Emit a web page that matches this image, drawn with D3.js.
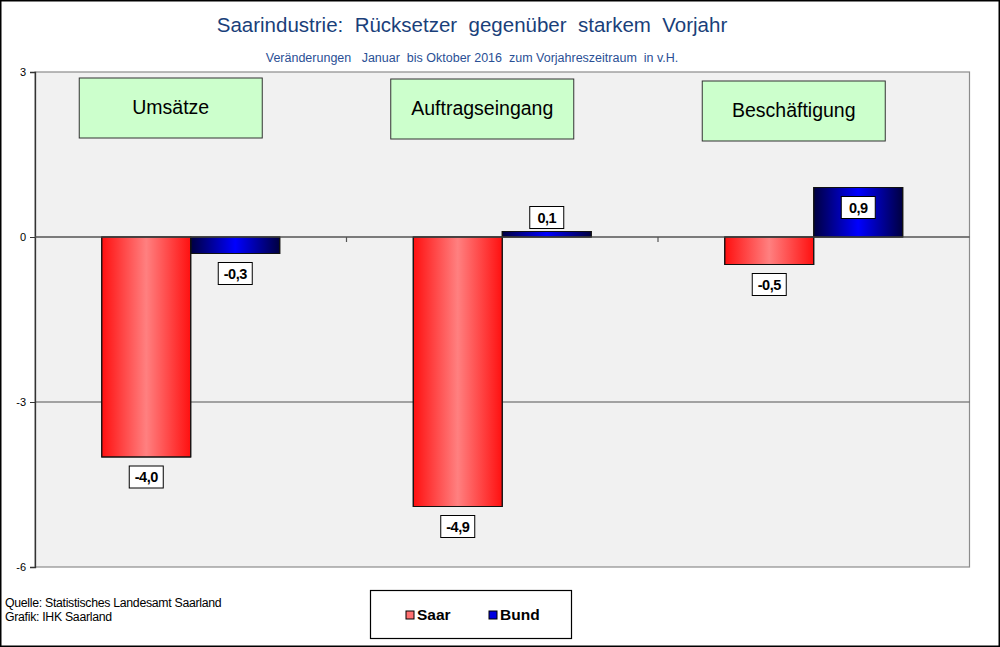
<!DOCTYPE html>
<html><head><meta charset="utf-8">
<script src="https://cdn.jsdelivr.net/npm/d3@7"></script>
<style>body{margin:0;background:#fff}svg{display:block;font-family:Arial,"Liberation Sans",sans-serif}</style>
</head><body>
<svg id="c" width="1000" height="647"></svg>
<script>
const categories = ["Umsätze", "Auftragseingang", "Beschäftigung"];
const seriesNames = ["Saar", "Bund"];
const saarValues = [-4.0, -4.9, -0.5];
const bundValues = [-0.3, 0.1, 0.9];
const yTicks = [3, 0, -3, -6];
const title = "Saarindustrie:  Rücksetzer  gegenüber  starkem  Vorjahr";
const subtitle = "Veränderungen   Januar  bis Oktober 2016  zum Vorjahreszeitraum  in v.H.";
const sourceLines = ["Quelle: Statistisches Landesamt Saarland", "Grafik: IHK Saarland"];

const svg = d3.select("#c");
const L = 35, R = 969.5, T = 72, B = 567;
const fmt = v => d3.format(".1f")(v).replace(".", ",").replace("−", "-");

const defs = svg.append("defs");
function grad(id, edge, mid) {
  const g = defs.append("linearGradient").attr("id", id).attr("x1", "0").attr("x2", "1").attr("y1", "0").attr("y2", "0");
  g.append("stop").attr("offset", "0%").attr("stop-color", edge);
  g.append("stop").attr("offset", "50%").attr("stop-color", mid);
  g.append("stop").attr("offset", "100%").attr("stop-color", edge);
}
grad("gSaar", "#ff1010", "#ff8080");
grad("gBund", "#000040", "#0000ff");
const fills = {Saar: "url(#gSaar)", Bund: "url(#gBund)"};

// frame
svg.append("rect").attr("x", 0.75).attr("y", 0.75).attr("width", 998.5).attr("height", 645.5)
  .attr("fill", "#fff").attr("stroke", "#000").attr("stroke-width", 1.5);

// titles
svg.append("text").attr("x", 472).attr("y", 32).attr("text-anchor", "middle")
  .attr("font-size", 20.5).attr("fill", "#1a3f7a").style("white-space", "pre").text(title);
svg.append("text").attr("x", 472).attr("y", 62).attr("text-anchor", "middle")
  .attr("font-size", 12.5).attr("fill", "#2a4f95").style("white-space", "pre").text(subtitle);

const y = d3.scaleLinear().domain([-6, 3]).range([B, T]);
const x0 = d3.scaleBand().domain(categories).range([L, R]).paddingInner(0).paddingOuter(0);
const x1 = d3.scaleBand().domain(seriesNames).range([0, x0.bandwidth()]).paddingInner(0).paddingOuter(0.75);

// plot background
svg.append("rect").attr("x", L).attr("y", T).attr("width", R - L).attr("height", B - T)
  .attr("fill", "#f1f1f1").attr("stroke", "#8c8c8c").attr("stroke-width", 1.2);

// gridlines
svg.append("g").selectAll("line").data(yTicks.filter(t => t > -6 && t < 3)).join("line")
  .attr("x1", L).attr("x2", R).attr("y1", d => y(d)).attr("y2", d => y(d))
  .attr("stroke", "#555").attr("stroke-width", 1.2);

// y axis
const yAxis = d3.axisLeft(y).tickValues(yTicks).tickSize(5).tickPadding(4).tickFormat(d => d3.format("d")(d).replace("−", "-"));
const ya = svg.append("g").attr("transform", `translate(${L},0)`).call(yAxis);
ya.select(".domain").attr("stroke", "#333").attr("stroke-width", 1.3);
ya.selectAll(".tick line").attr("stroke", "#333");
ya.selectAll("text").attr("font-size", 11).attr("fill", "#000").attr("font-family", "Arial, Liberation Sans, sans-serif");

// category ticks on zero line
svg.append("g").selectAll("line").data(categories.slice(1)).join("line")
  .attr("x1", d => x0(d)).attr("x2", d => x0(d)).attr("y1", y(0)).attr("y2", y(0) + 5)
  .attr("stroke", "#555").attr("stroke-width", 1.2);

// data table
const rows = categories.map((c, i) => ({cat: c, vals: [
  {s: "Saar", v: saarValues[i]}, {s: "Bund", v: bundValues[i]}]}));

const groups = svg.append("g").selectAll("g").data(rows).join("g")
  .attr("transform", d => `translate(${x0(d.cat)},0)`);

groups.selectAll("rect").data(d => d.vals).join("rect")
  .attr("x", d => x1(d.s)).attr("width", x1.bandwidth())
  .attr("y", d => y(Math.max(0, d.v))).attr("height", d => Math.abs(y(d.v) - y(0)))
  .attr("fill", d => fills[d.s]).attr("stroke", "#111").attr("stroke-width", 1);

// zero line redraw on top of bar joints
svg.append("line").attr("x1", L).attr("x2", R).attr("y1", y(0)).attr("y2", y(0))
  .attr("stroke", "#555").attr("stroke-width", 1.2);
groups.selectAll("rect.o").data(d => d.vals).join("rect").attr("class", "o")
  .attr("x", d => x1(d.s)).attr("width", x1.bandwidth())
  .attr("y", d => y(Math.max(0, d.v))).attr("height", d => Math.abs(y(d.v) - y(0)))
  .attr("fill", "none").attr("stroke", "#111").attr("stroke-width", 1);

// value labels
const labelY = d => {
  const h = Math.abs(y(d.v) - y(0));
  if (d.v < 0) return y(d.v) + 20;
  return h > 30 ? y(d.v) + 20 : y(d.v) - 14;
};
const lab = groups.selectAll("g.lab").data(d => d.vals).join("g").attr("class", "lab")
  .attr("transform", d => `translate(${x1(d.s) + x1.bandwidth() / 2},${labelY(d)})`);
lab.append("rect").attr("x", -17).attr("y", -11).attr("width", 34).attr("height", 22)
  .attr("fill", "#fff").attr("stroke", "#000").attr("stroke-width", 1);
lab.append("text").attr("text-anchor", "middle").attr("dy", "0.36em")
  .attr("font-size", 14.5).attr("font-weight", "bold").attr("fill", "#000").attr("letter-spacing", -0.5)
  .text(d => fmt(d.v));

// category header boxes
const boxTop = [78, 79, 81];
const hb = svg.append("g").selectAll("g").data(categories).join("g")
  .attr("transform", (d, i) => `translate(${x0(d) + x0.bandwidth() / 2 - 20},${boxTop[i]})`);
hb.append("rect").attr("x", -91.5).attr("y", 0).attr("width", 183).attr("height", 60)
  .attr("fill", "#ccffcc").attr("stroke", "#333").attr("stroke-width", 1);
hb.append("text").attr("text-anchor", "middle").attr("y", 36).attr("font-size", 19.5).attr("fill", "#000").text(d => d);

// source
svg.append("g").selectAll("text").data(sourceLines).join("text")
  .attr("x", 5).attr("y", (d, i) => 607 + i * 13.5).attr("font-size", 12.3).attr("fill", "#000")
  .attr("letter-spacing", -0.3).text(d => d);

// legend
const lg = svg.append("g");
lg.append("rect").attr("x", 370.5).attr("y", 590.5).attr("width", 201).attr("height", 48)
  .attr("fill", "#fff").attr("stroke", "#000").attr("stroke-width", 1.2);
const legX = [406, 489];
const li = lg.selectAll("g").data(seriesNames).join("g").attr("transform", (d, i) => `translate(${legX[i]},611)`);
li.append("rect").attr("width", 8).attr("height", 8).attr("fill", d => d === "Saar" ? "#ff7070" : "#0000e0")
  .attr("stroke", "#000").attr("stroke-width", 1);
li.append("text").attr("x", 11).attr("y", 9).attr("font-size", 15.5).attr("font-weight", "bold").attr("fill", "#000").text(d => d);
</script>
</body></html>
